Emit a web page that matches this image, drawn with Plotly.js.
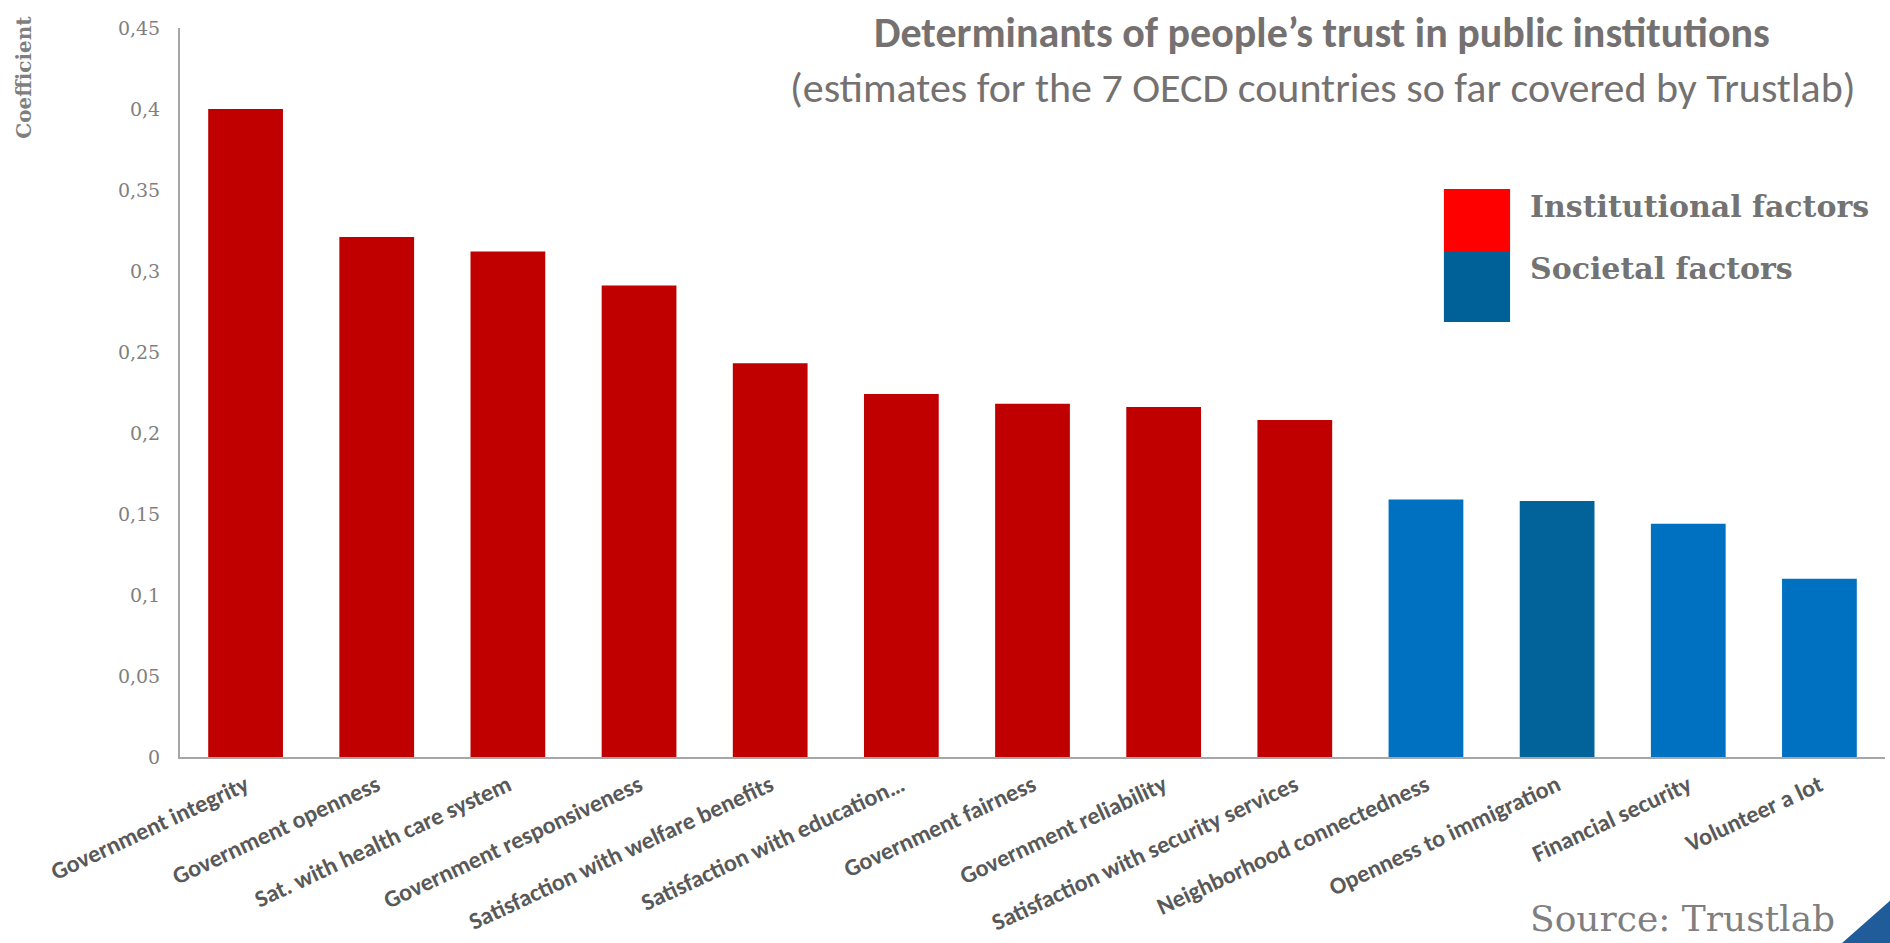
<!DOCTYPE html>
<html>
<head>
<meta charset="utf-8">
<script src="https://cdn.plot.ly/plotly-3.0.1.min.js"></script>
<style>
  html, body { margin: 0; padding: 0; background: #ffffff; }
  #chart { width: 1890px; height: 943px; }
</style>
</head>
<body>
<div id="chart"></div>
<script>
// ---- Data ----
const categories = [
  "Government integrity",
  "Government openness",
  "Sat. with health care system",
  "Government responsiveness",
  "Satisfaction with welfare benefits",
  "Satisfaction with education…",
  "Government fairness",
  "Government reliability",
  "Satisfaction with security services",
  "Neighborhood connectedness",
  "Openness to immigration",
  "Financial security",
  "Volunteer a lot"
];
const coefficients = [0.400, 0.321, 0.312, 0.291, 0.243, 0.224, 0.218, 0.216, 0.208, 0.159, 0.158, 0.144, 0.110];
const factorGroup = [
  "Institutional", "Institutional", "Institutional", "Institutional", "Institutional",
  "Institutional", "Institutional", "Institutional", "Institutional",
  "Societal", "Societal", "Societal", "Societal"
];
const yTickValues = [0, 0.05, 0.1, 0.15, 0.2, 0.25, 0.3, 0.35, 0.4, 0.45];
const yTickLabels = ["0", "0,05", "0,1", "0,15", "0,2", "0,25", "0,3", "0,35", "0,4", "0,45"];
const legendLabels = ["Institutional factors", "Societal factors"];

// ---- Styles ----
const groupColor = { Institutional: "#C00000", Societal: "#0070C0" };
const highlightCategory = "Openness to immigration";
const highlightColor = "#02629A";
const barColors = categories.map((c, i) => c === highlightCategory ? highlightColor : groupColor[factorGroup[i]]);

const serif = "'DejaVu Serif', Georgia, serif";
const sans = "Carlito, Calibri, Lato, 'Open Sans', sans-serif";

const trace = {
  type: "bar",
  x: categories,
  y: coefficients,
  marker: { color: barColors, line: { width: 0 } },
  width: 0.57,
  hoverinfo: "x+y"
};

const layout = {
  width: 1890,
  height: 943,
  margin: { l: 180, r: 5, t: 28, b: 186 },
  paper_bgcolor: "#ffffff",
  plot_bgcolor: "#ffffff",
  showlegend: false,
  bargap: 0.43,
  xaxis: {
    type: "category",
    range: [-0.5, 12.5],
    showline: true,
    linecolor: "#A6A6A6",
    linewidth: 2,
    showgrid: false,
    zeroline: false,
    ticks: "",
    tickangle: -25,
    ticklabelstandoff: 3,
    tickfont: { family: sans, size: 24, color: "#595959", weight: "bold" },
    automargin: false
  },
  yaxis: {
    range: [0, 0.45],
    showline: true,
    linecolor: "#A6A6A6",
    linewidth: 2,
    showgrid: false,
    zeroline: false,
    ticks: "",
    tickvals: yTickValues,
    ticktext: yTickLabels,
    ticklabelstandoff: 14,
    tickfont: { family: serif, size: 19, color: "#7F7F7F" },
    automargin: false
  },
  shapes: [
    { type: "rect", xref: "paper", yref: "paper", x0: 0.7413, x1: 0.7801, y0: 0.6927, y1: 0.7791,
      fillcolor: "#FF0000", line: { width: 0 } },
    { type: "rect", xref: "paper", yref: "paper", x0: 0.7413, x1: 0.7801, y0: 0.5967, y1: 0.6927,
      fillcolor: "#006098", line: { width: 0 } },
    { type: "path", xref: "paper", yref: "paper",
      path: "M 0.9748 -0.2551 L 1.003 -0.2551 L 1.003 -0.197 Z",
      fillcolor: "#1F5C99", line: { width: 0 } }
  ],
  annotations: [
    { xref: "paper", yref: "paper", x: 0.670, y: 0.994, xanchor: "center", yanchor: "middle",
      text: "<b>Determinants of people’s trust in public institutions</b>", showarrow: false,
      font: { family: sans, size: 42, color: "#767171" } },
    { xref: "paper", yref: "paper", x: 0.670, y: 0.918, xanchor: "center", yanchor: "middle",
      text: "(estimates for the 7 OECD countries so far covered by Trustlab)", showarrow: false,
      font: { family: sans, size: 42, color: "#767171" } },
    { xref: "paper", yref: "paper", x: -0.092, y: 0.932, xanchor: "center", yanchor: "middle",
      text: "<b>Coefficient</b>", textangle: -90, showarrow: false,
      font: { family: serif, size: 20, color: "#7F7F7F" } },
    { xref: "paper", yref: "paper", x: 0.7906, y: 0.755, xanchor: "left", yanchor: "middle",
      text: "<b>" + legendLabels[0] + "</b>", showarrow: false,
      font: { family: serif, size: 30, color: "#737373" } },
    { xref: "paper", yref: "paper", x: 0.7906, y: 0.670, xanchor: "left", yanchor: "middle",
      text: "<b>" + legendLabels[1] + "</b>", showarrow: false,
      font: { family: serif, size: 30, color: "#737373" } },
    { xref: "paper", yref: "paper", x: 0.7906, y: 0.0, yshift: -139, xanchor: "left", yanchor: "top",
      text: "Source: Trustlab", showarrow: false,
      font: { family: serif, size: 36, color: "#7F7F7F" } }
  ]
};

Plotly.newPlot("chart", [trace], layout, { displayModeBar: false, staticPlot: true });
</script>
</body>
</html>
